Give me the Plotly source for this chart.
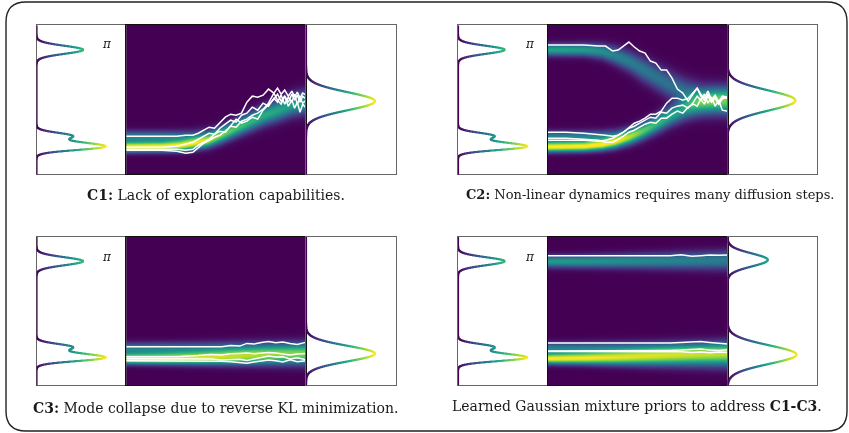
import numpy as np
import plotly.graph_objects as go

FIG_W, FIG_H = 849, 433
S_MAX = 149.0

# ---------------- data ----------------
# target density pi (left boxes, identical in every panel): Gaussian bumps
PI_MU = [124.7, 27.6, 32.0, 38.5]
PI_SD = [4.0, 3.2, 2.5, 3.2]
PI_H = [0.52, 0.72, 0.2, 0.40]

# right-hand (prior / terminal) densities per panel
R1_MU, R1_SD, R1_H = [73.3], [9.0], [0.77]
R2_MU, R2_SD, R2_H = [74.0], [10.0], [0.76]
R3_MU, R3_SD, R3_H = [32.0], [7.8], [0.77]
R4_MU, R4_SD, R4_H = [126.0, 31.0], [6.5, 9.3], [0.45, 0.77]

# heat-map bands: knots in time (0..100) with mean / spread / intensity
H1_T = [0, 20, 30, 37, 45, 52, 60, 68, 76, 85, 92, 100]
H1_MAIN_MU = [27.5, 27.8, 28.7, 30.7, 34, 39, 45.7, 52.3, 59, 64.7, 69.7, 72.3]
H1_MAIN_SD = [3.5, 3.5, 3.8, 4.2, 4.8, 5.3, 5.8, 6.3, 6.8, 7.2, 7.5, 7.6]
H1_MAIN_A = [1.0, 1.0, 0.97, 0.92, 0.85, 0.78, 0.72, 0.66, 0.62, 0.58, 0.56, 0.55]
H1_SH_MU = [37.5, 37.5, 37.5, 38, 40, 44, 50, 56, 62, 67, 71, 73]
H1_SH_SD = [4, 4, 4.2, 4.5, 5, 5.5, 6, 6.5, 7, 7.3, 7.5, 7.6]
H1_SH_A = [0.45, 0.45, 0.4, 0.3, 0.15, 0.05, 0, 0, 0, 0, 0, 0]

H2_T = [0, 20, 30, 37, 45, 52, 60, 68, 76, 85, 92, 100]
H2_UP_MU = [124.7, 124.7, 123, 119, 113, 105.7, 97.3, 89, 82.3, 77.3, 75.5, 74]
H2_UP_SD = [4, 4.3, 5, 6, 7, 8, 8.5, 9, 9, 9, 9, 9]
H2_UP_A = [0.58, 0.55, 0.5, 0.45, 0.42, 0.4, 0.38, 0.37, 0.37, 0.37, 0.37, 0.37]
H2_LO_MU = [27.5, 28, 29.7, 32.3, 37.3, 43, 50.7, 59, 65.7, 70.7, 73, 74]
H2_LO_SD = [3.5, 3.5, 3.8, 4.3, 5, 5.6, 6.2, 6.8, 7.4, 8, 8.5, 9]
H2_LO_A = [1.0, 1.0, 0.97, 0.9, 0.8, 0.72, 0.66, 0.6, 0.55, 0.5, 0.45, 0.42]
H2_SH_MU = [37.5, 37.5, 38, 39, 42, 46, 52, 59, 65.7, 70.7, 73, 74]
H2_SH_SD = [4, 4, 4.2, 4.5, 5, 5.5, 6, 6.5, 7, 7.3, 7.5, 7.6]
H2_SH_A = [0.45, 0.45, 0.4, 0.3, 0.15, 0.05, 0, 0, 0, 0, 0, 0]

H3_T = [0, 20, 40, 60, 80, 100]
H3_MAIN_MU = [27.5, 27.6, 28, 28.8, 29.8, 30.5]
H3_MAIN_SD = [3.5, 3.8, 4.3, 5, 5.8, 6.5]
H3_MAIN_A = [1.0, 0.98, 0.92, 0.82, 0.7, 0.6]
H3_SH_MU = [37.5, 37.5, 37.5, 37.5, 37.5, 37]
H3_SH_SD = [4, 4.2, 4.5, 5, 5.5, 6]
H3_SH_A = [0.45, 0.43, 0.4, 0.37, 0.33, 0.3]

H4_T = [0, 20, 40, 60, 80, 100]
H4_UP_MU = [124.7, 124.8, 125, 125.3, 125.6, 126]
H4_UP_SD = [4, 4.3, 4.7, 5.2, 5.8, 6.3]
H4_UP_A = [0.55, 0.53, 0.5, 0.47, 0.44, 0.42]
H4_LO_MU = [27.5, 27.8, 28.3, 29, 29.8, 30.5]
H4_LO_SD = [3.5, 4, 4.8, 5.7, 6.6, 7.5]
H4_LO_A = [1.0, 0.97, 0.9, 0.82, 0.74, 0.68]
H4_SH_MU = [37.5, 37.5, 37.5, 37.3, 37, 36.5]
H4_SH_SD = [4, 4.3, 4.7, 5.2, 5.8, 6.3]
H4_SH_A = [0.45, 0.43, 0.4, 0.37, 0.33, 0.3]

# sampled trajectories (white lines)
P1_TT = [0, 10, 20, 28, 33, 37, 40, 43, 46, 49, 52, 55, 58, 61, 64, 67, 70, 73, 76, 79,
         82, 84, 86, 88, 90, 92, 93.5, 95, 96.5, 98, 100]
P1_A = [38, 38, 38, 38, 39, 39, 41, 44, 47, 46, 51, 57, 60, 59, 61, 72, 78, 77, 79, 85,
        81, 86, 80, 84, 78, 83, 77, 82, 76, 81, 79]
P1_B = [27, 27, 27, 28, 30, 32, 35, 38, 41, 40, 46, 50, 54, 52, 59, 61, 67, 64, 71, 68,
        76, 72, 79, 70, 77, 72, 80, 70, 76, 71, 74]
P1_C = [24, 24, 24, 23, 21, 22, 27, 31, 34, 37, 39, 43, 48, 47, 53, 55, 59, 61, 65, 71,
        81, 74, 70, 78, 68, 74, 66, 72, 62, 70, 66]
P1_D = [25, 25, 25, 25, 24, 25, 29, 32, 35, 40, 43, 42, 49, 55, 51, 53, 57, 55, 64, 69,
        75, 80, 73, 78, 72, 80, 74, 79, 72, 78, 75]

P2_TT = [0, 10, 20, 28, 32, 36, 39, 42, 45, 48, 51, 54, 57, 60, 63, 66, 69, 72, 75, 78,
         81, 83, 85, 87, 89, 91, 93, 95, 97, 100]
P2_U = [129, 129, 129, 128, 128, 123, 124, 128, 132, 127, 123, 121, 113, 111, 104, 104, 96, 85, 81, 73,
        81, 86, 78, 74, 80, 72, 77, 70, 75, 77]
P2_A = [42, 42, 41, 40, 39, 38, 39, 42, 47, 51, 53, 56, 60, 60, 63, 71, 76, 76, 74, 76,
        82, 86, 80, 76, 83, 74, 79, 72, 78, 77]
P2_B = [34, 34, 34, 33, 34, 36, 39, 42, 46, 48, 51, 54, 57, 56, 62, 61, 66, 68, 69, 66,
        72, 78, 74, 80, 71, 77, 68, 74, 64, 63]
P2_C = [36, 36, 35, 34, 32, 32, 35, 38, 42, 44, 47, 50, 52, 51, 56, 56, 60, 63, 61, 67,
        70, 68, 75, 70, 78, 72, 76, 70, 77, 76]

P3_TT = [0, 15, 30, 40, 47, 53, 58, 63, 67, 71, 75, 79, 83, 87, 91, 95, 100]
P3_A = [38.6, 38.6, 38.6, 38.6, 38, 38.6, 40, 39.3, 42, 41.3, 43, 44, 42.6, 43.3, 42, 41, 43.3]
P3_B = [28.6, 28.6, 29, 30, 31, 30.3, 31.6, 32, 32.3, 31.6, 32, 33, 32.3, 31, 30.3, 31.3, 32]
P3_C = [26.6, 26.6, 26.6, 26.6, 26.3, 25.3, 25.6, 26, 25, 26.3, 27.3, 29.3, 28.3, 28.6, 26.3, 27.6, 25.6]
P3_D = [24.6, 24.6, 24.6, 24.3, 24, 24, 23.6, 23, 22, 23.3, 24.6, 25.3, 24.6, 23.3, 25.6, 23.6, 24.6]

P4_TT = [0, 20, 40, 55, 62, 68, 74, 80, 85, 90, 95, 100]
P4_U = [130, 130, 130, 129.6, 130.3, 130, 131, 129.3, 130, 130.6, 130.3, 130.6]
P4_A = [42.3, 42.3, 42.3, 42, 42.3, 42.3, 43, 43.6, 44, 43, 42.3, 41.3]
P4_B = [34.3, 34.3, 34.3, 34.3, 34.6, 35, 35.3, 35.6, 36.3, 35.3, 35, 35.6]
P4_C = [34, 34, 34, 34, 33.6, 33.3, 33.6, 33, 33.3, 32.6, 33.3, 33]

CAPTIONS = [
    "<b>C1:</b> Lack of exploration capabilities.",
    "<b>C2:</b> Non-linear dynamics requires many diffusion steps.",
    "<b>C3:</b> Mode collapse due to reverse KL minimization.",
    "Learned Gaussian mixture priors to address <b>C1-C3</b>.",
]

# ---------------- assembly ----------------
RIGHTS = [(R1_MU, R1_SD, R1_H), (R2_MU, R2_SD, R2_H), (R3_MU, R3_SD, R3_H), (R4_MU, R4_SD, R4_H)]
HEATS = [
    (H1_T, [(H1_MAIN_MU, H1_MAIN_SD, H1_MAIN_A), (H1_SH_MU, H1_SH_SD, H1_SH_A)]),
    (H2_T, [(H2_UP_MU, H2_UP_SD, H2_UP_A), (H2_LO_MU, H2_LO_SD, H2_LO_A), (H2_SH_MU, H2_SH_SD, H2_SH_A)]),
    (H3_T, [(H3_MAIN_MU, H3_MAIN_SD, H3_MAIN_A), (H3_SH_MU, H3_SH_SD, H3_SH_A)]),
    (H4_T, [(H4_UP_MU, H4_UP_SD, H4_UP_A), (H4_LO_MU, H4_LO_SD, H4_LO_A), (H4_SH_MU, H4_SH_SD, H4_SH_A)]),
]
TRAJS = [
    (P1_TT, [P1_A, P1_B, P1_C, P1_D]),
    (P2_TT, [P2_U, P2_A, P2_B, P2_C]),
    (P3_TT, [P3_A, P3_B, P3_C, P3_D]),
    (P4_TT, [P4_U, P4_A, P4_B, P4_C]),
]

# layout geometry (pixels)
COLS = [(36.7, 126.3, 306.3, 396.0), (458.3, 548.0, 727.7, 817.3)]
ROWS = [(25.0, 174.3), (236.7, 385.3)]
CAP_POS = [(215.5, 194.5), (650.0, 194.0), (215.5, 407.5), (636.5, 405.5)]
CAP_SIZE = [14.0, 13.0, 14.0, 14.0]
PI_POS = [(107, 44), (529.5, 44), (107, 257), (530, 257)]

s_grid = np.linspace(0, S_MAX, 3000)


def mixture(s, mus, sds, hs):
    out = np.zeros_like(s)
    for m, d, h in zip(mus, sds, hs):
        out += h * np.exp(-0.5 * ((s - m) / d) ** 2)
    return out


fig = go.Figure()
layout = dict(
    width=FIG_W, height=FIG_H, autosize=False,
    margin=dict(l=0, r=0, t=0, b=0),
    paper_bgcolor="white", plot_bgcolor="white",
    showlegend=False,
)

CMAX = 0.77


def axis(domain, rng, color):
    return dict(domain=domain, range=rng, showticklabels=False, ticks="", showgrid=False,
                zeroline=False, showline=True, mirror=True, linecolor=color, linewidth=1,
                fixedrange=True)


ax_i = 0
for p in range(4):
    row, col = p // 2, p % 2
    x0, x1, x2, x3 = COLS[col]
    yt, yb = ROWS[row]
    ydom = [1 - yb / FIG_H, 1 - yt / FIG_H]
    doms = [[x0 / FIG_W, x1 / FIG_W], [x1 / FIG_W, x2 / FIG_W], [x2 / FIG_W, x3 / FIG_W]]
    names = []
    for k in range(3):
        ax_i += 1
        sfx = "" if ax_i == 1 else str(ax_i)
        names.append(("x" + sfx, "y" + sfx))
        xr = [0, 100] if k == 1 else [0, 1]
        lc = "#111111" if k == 1 else "#666666"
        layout["xaxis" + sfx] = axis(doms[k], xr, lc)
        layout["yaxis" + sfx] = axis(ydom, [0, S_MAX], lc)
        layout["xaxis" + sfx]["anchor"] = "y" + sfx
        layout["yaxis" + sfx]["anchor"] = "x" + sfx

    # left: target pi
    d = mixture(s_grid, PI_MU, PI_SD, PI_H)
    fig.add_trace(go.Scattergl(x=d, y=s_grid, mode="markers", xaxis=names[0][0], yaxis=names[0][1],
                               marker=dict(size=2.3, color=d, colorscale="Viridis", cmin=0, cmax=CMAX),
                               hoverinfo="skip"))
    # right density
    mu, sd, h = RIGHTS[p]
    d = mixture(s_grid, mu, sd, h)
    fig.add_trace(go.Scattergl(x=d, y=s_grid, mode="markers", xaxis=names[2][0], yaxis=names[2][1],
                               marker=dict(size=2.3, color=d, colorscale="Viridis", cmin=0, cmax=CMAX),
                               hoverinfo="skip"))
    # heat map
    knots, bands = HEATS[p]
    tg = np.linspace(0, 100, 181)
    sg = np.linspace(0, S_MAX, 150)
    z = np.zeros((sg.size, tg.size))
    for bm, bs, ba in bands:
        m = np.interp(tg, knots, bm)
        sdv = np.interp(tg, knots, bs)
        a = np.interp(tg, knots, ba)
        z += a[None, :] * np.exp(-0.5 * ((sg[:, None] - m[None, :]) / sdv[None, :]) ** 2)
    fig.add_trace(go.Heatmap(x=tg, y=sg, z=z, colorscale="Viridis", zmin=0, zmax=1, zsmooth="best",
                             showscale=False, xaxis=names[1][0], yaxis=names[1][1], hoverinfo="skip"))
    tt, lines = TRAJS[p]
    for ln in lines:
        fig.add_trace(go.Scatter(x=tt, y=ln, mode="lines", xaxis=names[1][0], yaxis=names[1][1],
                                 line=dict(color="white", width=1.5), hoverinfo="skip"))

annotations = []
for p in range(4):
    cx, cy = CAP_POS[p]
    annotations.append(dict(text=CAPTIONS[p], x=cx / FIG_W, y=1 - cy / FIG_H, xref="paper", yref="paper",
                            xanchor="center", yanchor="middle", showarrow=False,
                            font=dict(family="DejaVu Serif", size=CAP_SIZE[p], color="#1a1a1a")))
    px, py = PI_POS[p]
    annotations.append(dict(text="<i>π</i>", x=px / FIG_W, y=1 - py / FIG_H, xref="paper", yref="paper",
                            xanchor="center", yanchor="middle", showarrow=False,
                            font=dict(family="DejaVu Serif", size=12, color="#222222")))
layout["annotations"] = annotations

# rounded frame around the whole figure
L, R, T, B, RAD = 6.0, 847.0, 2.0, 431.0, 20.0
def P(x, y):
    return f"{x / FIG_W:.5f},{1 - y / FIG_H:.5f}"
path = (f"M {P(L + RAD, T)} L {P(R - RAD, T)} Q {P(R, T)} {P(R, T + RAD)} "
        f"L {P(R, B - RAD)} Q {P(R, B)} {P(R - RAD, B)} L {P(L + RAD, B)} "
        f"Q {P(L, B)} {P(L, B - RAD)} L {P(L, T + RAD)} Q {P(L, T)} {P(L + RAD, T)} Z")
layout["shapes"] = [dict(type="path", path=path, xref="paper", yref="paper",
                         line=dict(color="#222222", width=1.4))]

fig.update_layout(**layout)
fig.write_html("out.html")
